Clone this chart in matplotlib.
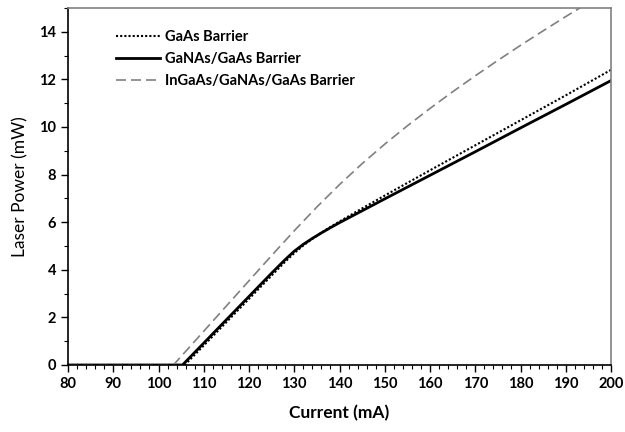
import matplotlib
matplotlib.use("Agg")
import matplotlib.pyplot as plt
from matplotlib.ticker import MultipleLocator

plt.rcParams['font.family'] = ['Lato', 'DejaVu Sans']

# GaAs Barrier (dotted)
gaas_x = [80, 105.8, 110, 115, 120, 125, 128, 130, 132, 134, 136, 138, 140, 145, 150, 160, 170, 180, 190, 200]
gaas_y = [0, 0, 0.82, 1.8, 2.78, 3.76, 4.34, 4.7, 5.02, 5.3, 5.56, 5.8, 6.03, 6.58, 7.12, 8.18, 9.23, 10.28, 11.33, 12.4]

# GaNAs/GaAs Barrier (solid)
ganas_x = [80, 105.3, 110, 115, 120, 125, 128, 130, 132, 134, 136, 138, 140, 145, 150, 160, 170, 180, 190, 200]
ganas_y = [0, 0, 0.92, 1.9, 2.88, 3.86, 4.43, 4.78, 5.07, 5.32, 5.55, 5.77, 5.98, 6.48, 6.98, 7.97, 8.96, 9.96, 10.95, 11.95]

# InGaAs/GaNAs/GaAs Barrier (dashed)
ingaas_x = [80, 103.3, 110, 115, 120, 125, 130, 135, 140, 145, 150, 155, 160, 165, 170, 175, 180, 185, 190, 195, 200]
ingaas_y = [0, 0, 1.42, 2.48, 3.54, 4.6, 5.64, 6.64, 7.58, 8.46, 9.28, 10.05, 10.78, 11.48, 12.15, 12.8, 13.43, 14.04, 14.64, 15.22, 15.8]

labels = ["GaAs Barrier", "GaNAs/GaAs Barrier", "InGaAs/GaNAs/GaAs Barrier"]

fig = plt.figure(figsize=(6.25, 4.32), dpi=100)
ax = fig.add_axes([68/625, 67/432, 543/625, 357/432])

ax.plot(gaas_x, gaas_y, color='black', linestyle=(0, (1, 1)), linewidth=1.5, label=labels[0])
ax.plot(ganas_x, ganas_y, color='black', linestyle='-', linewidth=2.0, label=labels[1])
ax.plot(ingaas_x, ingaas_y, color='#808080', linestyle=(0, (6, 3)), linewidth=1.2, label=labels[2])

ax.set_xlim(80, 200)
ax.set_ylim(0, 15)
ax.xaxis.set_major_locator(MultipleLocator(10))
ax.xaxis.set_minor_locator(MultipleLocator(2))
ax.yaxis.set_major_locator(MultipleLocator(2))
ax.yaxis.set_minor_locator(MultipleLocator(1))
ax.tick_params(which='major', direction='out', length=5, width=1, color='black')
ax.tick_params(which='minor', direction='out', length=3, width=0.8, color='black')
for lbl in ax.get_xticklabels() + ax.get_yticklabels():
    lbl.set_fontweight('bold')
    lbl.set_fontsize(10.5)

ax.spines['left'].set_color('black')
ax.spines['bottom'].set_color('black')
ax.spines['top'].set_color('#808080')
ax.spines['right'].set_color('#808080')
for s in ax.spines.values():
    s.set_linewidth(1.2)

ax.set_xlabel("Current (mA)", fontsize=12.5, fontweight='bold', labelpad=10)
ax.set_ylabel("Laser Power (mW)", fontsize=12.5, labelpad=8)

leg = ax.legend(loc='upper left', bbox_to_anchor=(0.065, 0.975), frameon=False,
                handlelength=3.0, handletextpad=0.3, labelspacing=0.55,
                prop={'weight': 'bold', 'size': 10.5})

fig.savefig("out.png", dpi=100)
